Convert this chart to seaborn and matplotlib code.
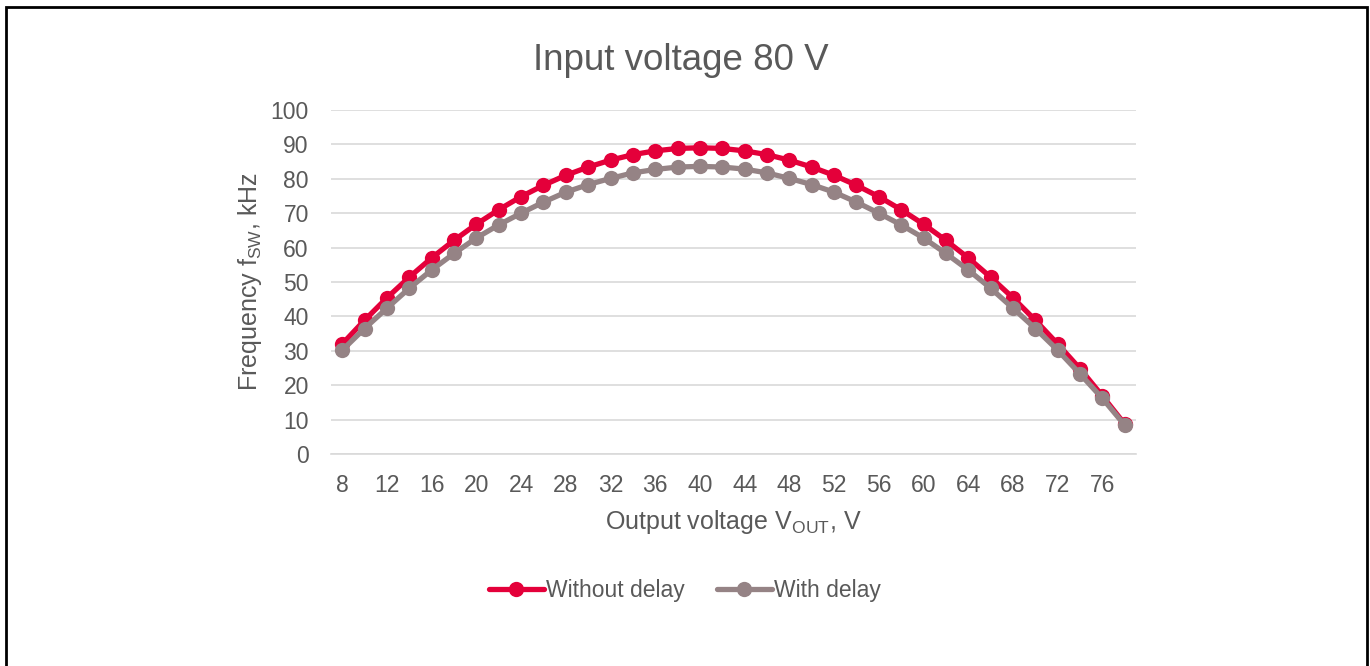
import pandas as pd
import matplotlib.pyplot as plt
import seaborn as sns
from matplotlib.patches import Rectangle

# Output voltage steps (V) and switching frequency (kHz)
vout = [8, 10, 12, 14, 16, 18, 20, 22, 24, 26, 28, 30, 32, 34, 36, 38, 40, 42,
        44, 46, 48, 50, 52, 54, 56, 58, 60, 62, 64, 66, 68, 70, 72, 74, 76, 78]
without_delay = [32.0, 38.9, 45.4, 51.4, 57.0, 62.1, 66.8, 71.0, 74.8, 78.1, 81.0, 83.4,
                 85.4, 87.0, 88.1, 88.8, 89.0, 88.8, 88.1, 87.0, 85.4, 83.4, 81.0, 78.1,
                 74.8, 71.0, 66.8, 62.1, 57.0, 51.4, 45.4, 38.9, 32.0, 24.8, 16.9, 8.7]
with_delay = [30.2, 36.5, 42.4, 48.2, 53.5, 58.3, 62.8, 66.6, 70.0, 73.2, 76.1, 78.3,
              80.1, 81.7, 82.7, 83.4, 83.6, 83.4, 82.8, 81.7, 80.1, 78.3, 76.1, 73.2,
              70.0, 66.6, 62.8, 58.3, 53.5, 48.2, 42.4, 36.5, 30.2, 23.3, 16.2, 8.4]
xticks = [8, 12, 16, 20, 24, 28, 32, 36, 40, 44, 48, 52, 56, 60, 64, 68, 72, 76]
yticks = [0, 10, 20, 30, 40, 50, 60, 70, 80, 90, 100]

df = pd.DataFrame({'Vout': vout, 'Without delay': without_delay, 'With delay': with_delay})
df = df.melt(id_vars='Vout', var_name='Series', value_name='Freq')

sns.set_style('white')
plt.rcParams['font.family'] = ['Liberation Sans', 'DejaVu Sans']
plt.rcParams['mathtext.fontset'] = 'custom'
plt.rcParams['mathtext.rm'] = 'Liberation Sans'
text_color = '#595959'

fig = plt.figure(figsize=(13.7, 6.66), dpi=100)
ax = fig.add_axes([0.2416, 0.318, 0.5876, 0.517])

sns.lineplot(data=df, x='Vout', y='Freq', hue='Series',
             palette={'Without delay': '#E4003A', 'With delay': '#958385'},
             marker='o', markersize=11, markeredgewidth=0, linewidth=3.8, ax=ax)

ax.set_xlim(7, 79)
ax.set_ylim(0, 100)
ax.set_xticks(xticks)
ax.set_yticks(yticks)
ax.grid(axis='y', color='#D9D9D9', linewidth=1.2)
ax.set_axisbelow(True)
for s in ['left', 'right', 'top']:
    ax.spines[s].set_visible(False)
ax.spines['bottom'].set_color('#D9D9D9')
ax.spines['bottom'].set_linewidth(1.2)
ax.tick_params(axis='both', length=0, labelsize=16.5, labelcolor=text_color)
ax.tick_params(axis='x', pad=14)
ax.tick_params(axis='y', pad=16)

ax.set_xlabel(r'Output voltage V$\mathregular{_{OUT}}$, V', fontsize=18, color=text_color, labelpad=8)
ax.set_ylabel(r'Frequency f$\mathregular{_{SW}}$, kHz', fontsize=18, color=text_color, labelpad=5)
fig.suptitle('Input voltage 80 V', x=0.497, y=0.935, fontsize=26.5, color=text_color)

handles, labels = ax.get_legend_handles_labels()
ax.legend_.remove()
fig.legend(handles, labels, loc='center', bbox_to_anchor=(0.5, 0.113), ncol=2,
           frameon=False, fontsize=16.5, labelcolor=text_color,
           handlelength=2.4, handletextpad=0.1, columnspacing=1.4)

# black frame around the chart
fig.patches.append(Rectangle((6 / 1370, -0.01), 1361 / 1370, 1 - 7 / 666 + 0.01,
                             transform=fig.transFigure, fill=False,
                             edgecolor='black', linewidth=2))

plt.savefig('out.png', dpi=100)
